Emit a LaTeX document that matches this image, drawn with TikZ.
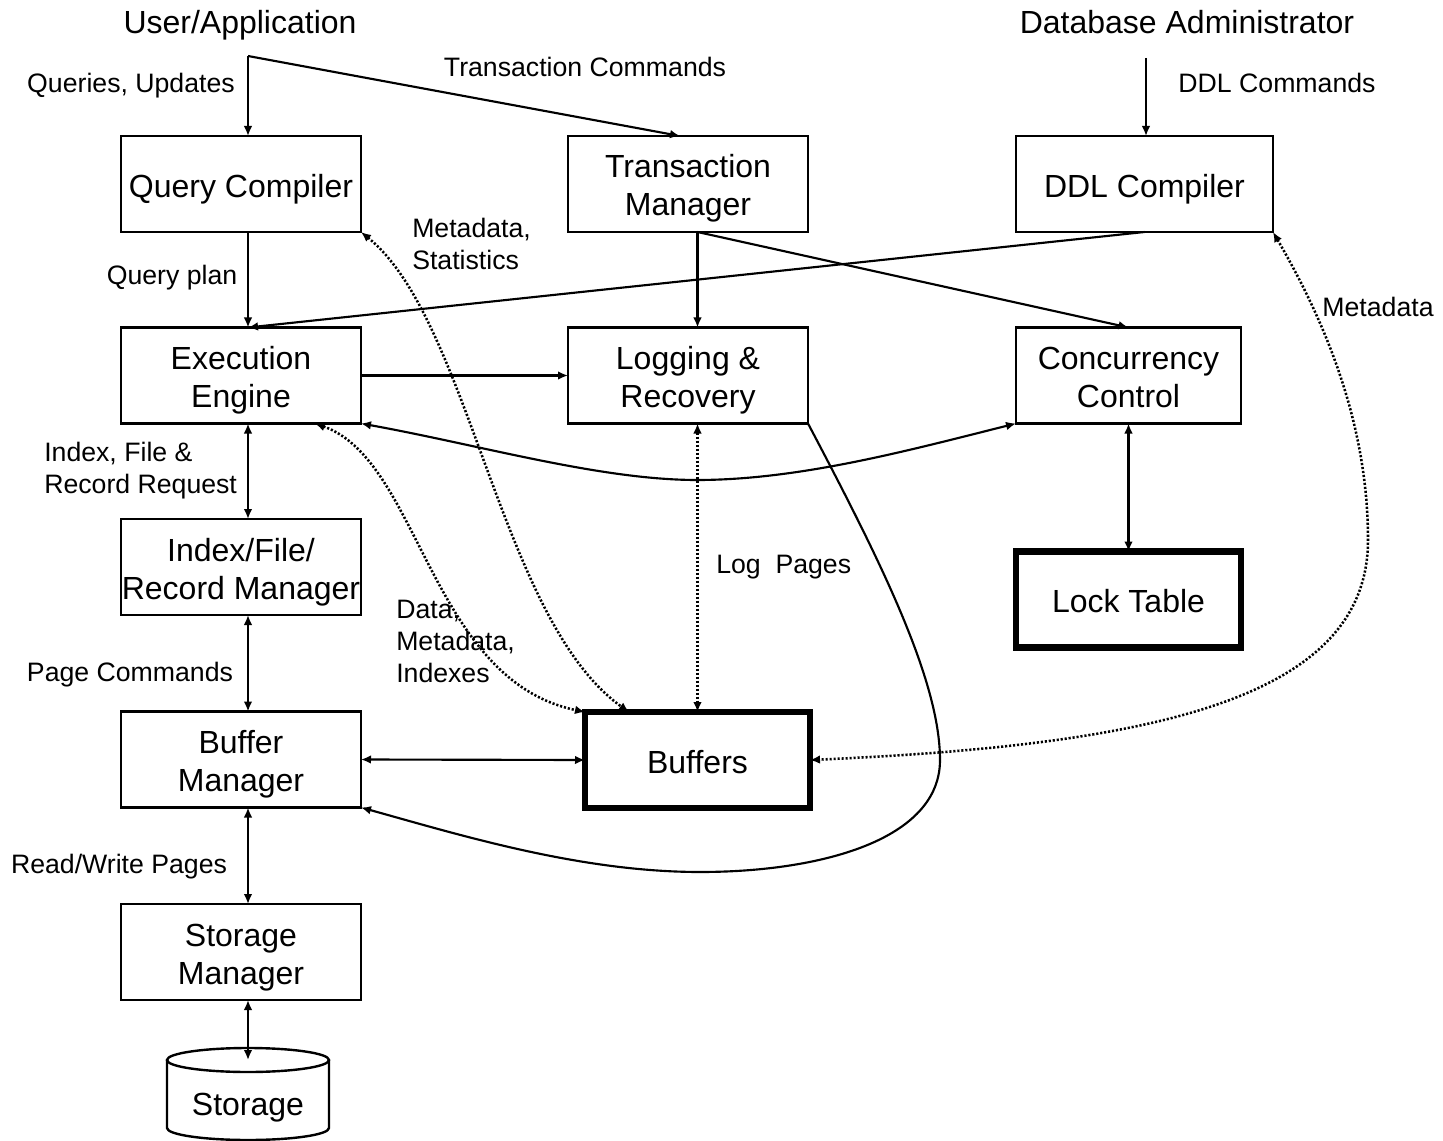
\documentclass[tikz,border=0pt]{standalone}
\usepackage{fontspec}
\setmainfont{Liberation Sans}
\usetikzlibrary{arrows.meta}

\begin{document}
\begin{tikzpicture}[x=0.75pt,y=0.75pt,yscale=-1,xscale=1,
	>={Latex[length=7.5pt,width=6.5pt]},
	box/.style={draw, line width=1.8pt, minimum width=180pt, minimum height=72pt, inner sep=0pt, outer sep=0pt, align=center, font=\fontsize{24}{28.5}\selectfont,
		execute at begin node={\rule{0pt}{26pt}}, execute at end node={\rule[-6pt]{0pt}{6pt}}},
	twoline/.style={box, execute at begin node={\rule{0pt}{54pt}}},
	thickbox/.style={box, line width=5pt, minimum width=168.75pt},
	lbl/.style={inner sep=0pt, align=left, font=\fontsize{20}{24}\selectfont},
	title/.style={inner sep=0pt, anchor=base, font=\fontsize{24}{28.5}\selectfont},
	flow/.style={line width=1.6pt},
	meta/.style={line width=1.9pt, dash pattern=on 1.6pt off 1.4pt}]
	\useasboundingbox (0,0) rectangle (1443,1141);
	\node[title] (user) at (240,34) {User/Application};
	\node[title] (dba) at (1187,34) {Database Administrator};
	\coordinate (ua) at (248,56);
	\coordinate (da) at (1146,58);
	\node[box] (qc) at (241,184) {Query Compiler};
	\node[twoline] (tm) at (688,184) {Transaction\\Manager};
	\node[box, minimum width=192.75pt] (ddl) at (1144.5,184) {DDL Compiler};
	\node[twoline] (ee) at (241,375.5) {Execution\\Engine};
	\node[twoline] (lr) at (688,375.5) {Logging \&\\Recovery};
	\node[twoline, minimum width=168.75pt] (cc) at (1128.5,375.5) {Concurrency\\Control};
	\node[twoline] (ifr) at (241,567) {Index/File/\\Record Manager};
	\node[thickbox] (lt) at (1128.5,599.5) {Lock Table};
	\node[twoline] (bm) at (241,759.5) {Buffer\\Manager};
	\node[thickbox] (buf) at (697.5,760) {Buffers};
	\node[twoline] (sm) at (241,952) {Storage\\Manager};
	\node[inner sep=0pt, outer sep=0pt, minimum width=121.5pt, minimum height=51pt, font=\fontsize{24}{28.5}\selectfont,
		execute at begin node={\rule{0pt}{37.5pt}}] (st) at (248,1094) {Storage};
	\draw[line width=1.8pt] (st.north west) -- (st.south west) arc[start angle=180, end angle=0, x radius=81, y radius=12] -- (st.north east);
	\draw[line width=1.8pt] (st.north) ellipse [x radius=81, y radius=12];
	\node[lbl, anchor=base] (qu) at (131,93) {Queries, Updates};
	\node[lbl, anchor=base] (tc) at (585,77) {Transaction Commands};
	\node[lbl, anchor=base] (dc) at (1277,93) {DDL Commands};
	\node[lbl, anchor=west] (ms) at (412,244) {Metadata,\\Statistics};
	\node[lbl, anchor=base] (qp) at (172,285) {Query plan};
	\node[lbl, anchor=base] (md) at (1378,317) {Metadata};
	\node[lbl, anchor=west] (ifrr) at (44,471) {Index, File \&\\Record Request};
	\node[lbl, anchor=base west] (lp) at (716,573) {Log\ \ Pages};
	\node[lbl, anchor=west] (dmi) at (396,641) {Data,\\Metadata,\\Indexes};
	\node[lbl, anchor=base] (pc) at (130,681) {Page Commands};
	\node[lbl, anchor=base] (rw) at (119,873) {Read/Write Pages};
	\draw[flow,->] (ua) -- (qc.north -| ua);
	\draw[flow,->] (ua) -- ([xshift=-6pt]tm.north);
	\draw[flow,->] (da) -- (da |- ddl.north);
	\draw[flow,->] (qc.south -| ua) -- (ee.north -| ua);
	\draw[flow,->] (ddl.south) -- (ee.north -| ua);
	\draw[flow,->] (tm.south -| buf) -- (lr.north -| buf);
	\draw[flow,->] (tm.south -| buf) -- (cc.north);
	\draw[flow,->] (ee.east) -- (lr.west);
	\draw[flow,<->] (ee.south east) .. controls (480,445) and (600,480) .. (697,480) .. controls (800,480) and (910,450) .. (cc.south west);
	\draw[flow,<->] (ee.south -| ua) -- (ifr.north -| ua);
	\draw[flow,<->] (ifr.south -| ua) -- (bm.north -| ua);
	\draw[flow,<->] (bm.south -| ua) -- (sm.north -| ua);
	\draw[flow,<->] (sm.south -| ua) -- (st.north);
	\draw[flow,<->] (bm.east) -- (buf.west);
	\draw[flow,<->] (cc.south) -- (lt.north);
	\draw[meta,<->] (lr.south -| buf) -- (buf.north);
	\draw[flow,->] (lr.south east) .. controls (880,560) and (940,680) .. (940,760) .. controls (940,840) and (820,872) .. (700,872) .. controls (580,872) and (460,835) .. (bm.south east);
	\draw[meta,<->] (qc.south east) .. controls (470,320) and (500,620) .. (buf.145);
	\draw[meta,<->] (ee.-33) .. controls (420,460) and (430,680) .. (buf.north west);
	\draw[meta,<->] (ddl.south east) .. controls (1330,330) and (1368,430) .. (1368,540) .. controls (1368,700) and (1150,745) .. (buf.east);
\end{tikzpicture}
\end{document}
